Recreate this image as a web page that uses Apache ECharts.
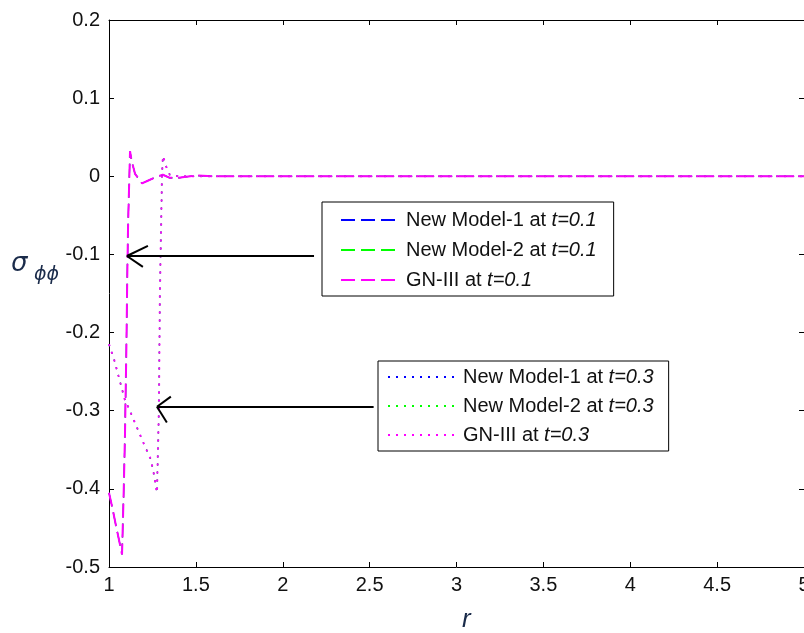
<!DOCTYPE html>
<html>
<head>
<meta charset="utf-8">
<script src="https://cdn.jsdelivr.net/npm/echarts@6/dist/echarts.min.js"></script>
<style>
  html, body { margin: 0; padding: 0; background: #fff; }
  #main { width: 804px; height: 633px; }
</style>
</head>
<body>
<div id="main"></div>
<script>
  // radial distance r and hoop stress at t = 0.1 (dashed curves)
  var r01 = [1.00, 1.02, 1.04, 1.06, 1.075, 1.085, 1.092, 1.10, 1.105, 1.11, 1.121, 1.13, 1.15, 1.19, 1.22, 1.26, 1.31, 1.35, 1.40, 1.50, 1.60, 2.0, 3.0, 4.0, 5.0];
  var sig01 = [-0.405, -0.425, -0.447, -0.468, -0.484, -0.40, -0.33, -0.22, -0.13, -0.06, 0.032, 0.02, 0.003, -0.009, -0.006, -0.002, 0.002, -0.002, -0.002, 0.001, 0, 0, 0, 0, 0];

  // radial distance r and hoop stress at t = 0.3 (dotted curves)
  var r03 = [1.00, 1.03, 1.06, 1.09, 1.12, 1.16, 1.20, 1.24, 1.26, 1.276, 1.287, 1.293, 1.305, 1.31, 1.33, 1.35, 1.40, 1.50, 2.0, 3.0, 4.0, 5.0];
  var sig03 = [-0.215, -0.235, -0.26, -0.285, -0.30, -0.321, -0.342, -0.362, -0.383, -0.405, -0.30, -0.15, 0.0, 0.026, 0.012, 0.002, 0, 0, 0, 0, 0, 0];

  var names01 = ['New Model-1 at t=0.1', 'New Model-2 at t=0.1', 'GN-III at t=0.1'];
  var names03 = ['New Model-1 at t=0.3', 'New Model-2 at t=0.3', 'GN-III at t=0.3'];
  var colors = ['#0000ff', '#00ff00', '#ff00ff'];
  // GN-III is drawn last and covers the other two curves
  var widths = [1.2, 1.2, 2];

  // annotation arrows (line + two barbs), in data coordinates
  var arrowSegs = [
    [[2.18, -0.102], [1.103, -0.102]],
    [[1.103, -0.102], [1.224, -0.089]],
    [[1.103, -0.102], [1.195, -0.116]],
    [[2.523, -0.295], [1.276, -0.295]],
    [[1.276, -0.295], [1.356, -0.282]],
    [[1.276, -0.295], [1.333, -0.315]]
  ];

  function zip(xs, ys) {
    return xs.map(function (x, i) { return [x, ys[i]]; });
  }

  var FONT = 'Liberation Sans';

  function legendFmt(name) {
    var i = name.indexOf('t=');
    return '{a|' + name.slice(0, i) + '}{b|' + name.slice(i) + '}';
  }
  var legendText = {
    fontSize: 20, color: '#111', fontFamily: FONT, lineHeight: 20,
    rich: {
      a: { fontSize: 20, fontFamily: FONT, color: '#111' },
      b: { fontSize: 20, fontFamily: FONT, color: '#111', fontStyle: 'italic' }
    }
  };

  var series = [];
  names01.forEach(function (n, i) {
    series.push({
      name: n, type: 'line', data: zip(r01, sig01),
      symbol: 'none', showSymbol: false, animation: false, silent: true,
      lineStyle: { color: colors[i], width: widths[i], type: [14, 6] },
      itemStyle: { color: colors[i] }
    });
  });
  names03.forEach(function (n, i) {
    series.push({
      name: n, type: 'line', data: zip(r03, sig03),
      symbol: 'none', showSymbol: false, animation: false, silent: true,
      lineStyle: { color: colors[i], width: widths[i], type: [2, 6] },
      itemStyle: { color: colors[i] }
    });
  });
  series[series.length - 1].markLine = {
    silent: true, animation: false,
    symbol: ['none', 'none'],
    label: { show: false },
    lineStyle: { color: '#000', width: 2, type: 'solid' },
    emphasis: { disabled: true },
    data: arrowSegs.map(function (s) { return [{ coord: s[0] }, { coord: s[1] }]; })
  };

  function axisCommon(show) {
    return {
      type: 'value',
      axisLine: { show: true, onZero: false, lineStyle: { color: '#000', width: 1 } },
      axisTick: { show: true, inside: true, length: 5, lineStyle: { color: '#000', width: 1 } },
      axisLabel: { show: show, color: '#111', fontSize: 20, fontFamily: FONT },
      splitLine: { show: false }
    };
  }
  var xb = axisCommon(true);
  xb.min = 1; xb.max = 5; xb.interval = 0.5; xb.position = 'bottom';
  xb.axisLabel.margin = 8;
  var xt = axisCommon(false);
  xt.min = 1; xt.max = 5; xt.interval = 0.5; xt.position = 'top';
  var yl = axisCommon(true);
  yl.min = -0.5; yl.max = 0.2; yl.interval = 0.1; yl.position = 'left';
  yl.axisLabel.margin = 9;
  yl.axisLabel.formatter = function (v) { return String(Math.round(v * 10) / 10); };
  var yr = axisCommon(false);
  yr.min = -0.5; yr.max = 0.2; yr.interval = 0.1; yr.position = 'right';

  var legendBase = {
    orient: 'vertical',
    backgroundColor: '#fff', borderColor: '#000', borderWidth: 1,
    itemHeight: 14, selectedMode: false,
    itemStyle: { opacity: 0 },
    lineStyle: { width: 2 },
    formatter: legendFmt, textStyle: legendText
  };

  var chart = echarts.init(document.getElementById('main'));
  chart.setOption({
    animation: false,
    backgroundColor: '#fff',
    grid: { left: 109, right: 0, top: 20, bottom: 66, outerBoundsMode: 'none', containLabel: false },
    xAxis: [xb, xt],
    yAxis: [yl, yr],
    legend: [
      Object.assign({}, legendBase, {
        data: names01, left: 322, top: 202,
        padding: [8, 17, 6, 18], itemWidth: 60, itemGap: 10
      }),
      Object.assign({}, legendBase, {
        data: names03, left: 378, top: 361,
        padding: [6, 15, 6, 9], itemWidth: 70, itemGap: 9
      })
    ],
    graphic: [
      {
        type: 'text', left: 11, top: 251,
        style: { text: 'σ', fontSize: 26, fontStyle: 'italic', fontFamily: 'DejaVu Sans', fill: '#1a2b4a' }
      },
      {
        type: 'text', left: 34, top: 266,
        style: { text: 'ϕϕ', fontSize: 19, fontStyle: 'italic', fontFamily: 'DejaVu Sans', fill: '#1a2b4a' }
      },
      {
        type: 'text', left: 462, top: 607,
        style: { text: 'r', fontSize: 26, fontStyle: 'italic', fontFamily: FONT, fill: '#1a2b4a' }
      }
    ],
    series: series
  });
</script>
</body>
</html>
